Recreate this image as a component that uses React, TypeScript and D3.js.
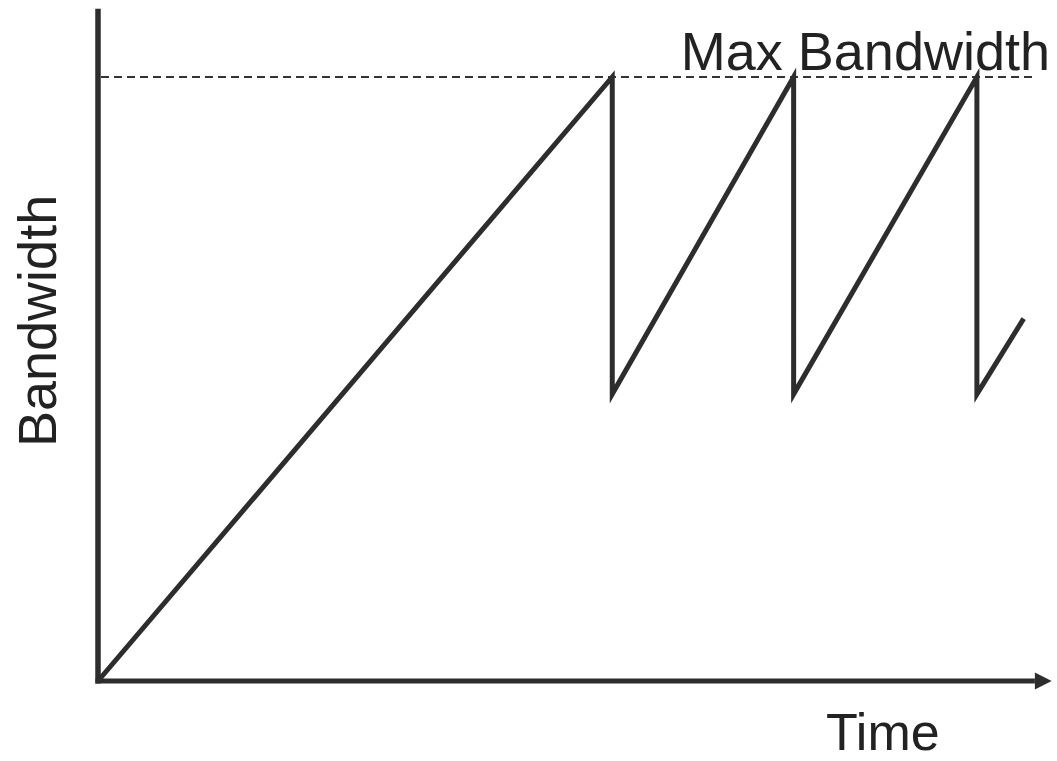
import * as d3 from "d3";
import React from "react";

// sawtooth: slow ramp-up, then halve-ish drop at the cap
const time = [0, 55, 55, 74.4, 74.4, 94, 94, 99];
const bandwidth = [0, 100, 47.5, 100, 47.5, 100, 47.5, 60];
const maxBandwidth = 100;
const labels = { x: "Time", y: "Bandwidth", cap: "Max Bandwidth" };

const W = 1057,
  H = 761;

const x = d3.scaleLinear().domain([0, 100]).range([98, 1033]);
const y = d3.scaleLinear().domain([0, 100]).range([681, 77]);

const ink = "#2d2d2d";

export default function App() {
  const pts: [number, number][] = time.map((t, i) => [t, bandwidth[i]]);
  const line = d3
    .line<[number, number]>()
    .x((d) => x(d[0]))
    .y((d) => y(d[1]));

  const font = "'Liberation Sans', Arial, sans-serif";

  return (
    <svg
      width={W}
      height={H}
      style={{ position: "absolute", left: 0, top: 0, background: "#fff" }}
    >
      {/* max bandwidth dashed line */}
      <line
        x1={x(0) + 3}
        x2={x(100)}
        y1={y(maxBandwidth)}
        y2={y(maxBandwidth)}
        stroke="#333"
        strokeWidth={2}
        strokeDasharray="8,5"
      />
      <text
        x={x(100) + 17}
        y={70}
        textAnchor="end"
        fontFamily={font}
        fontSize={54}
        fill="#222"
      >
        {labels.cap}
      </text>

      {/* axes */}
      <line x1={x(0)} x2={x(0)} y1={y(0) + 2.5} y2={y(111.3)} stroke={ink} strokeWidth={5.5} />
      <line x1={x(0) - 2.5} x2={x(100.2)} y1={y(0)} y2={y(0)} stroke={ink} strokeWidth={5} />
      <path
        d={`M${x(100.2)},${y(0) - 8.5} L${x(102)},${y(0)} L${x(100.2)},${y(0) + 8.5} Z`}
        fill={ink}
      />

      {/* bandwidth trace */}
      <path
        d={line(pts) || ""}
        fill="none"
        stroke={ink}
        strokeWidth={5}
        strokeLinejoin="miter"
      />

      <text x={826} y={750} fontFamily={font} fontSize={52} fill="#222">
        {labels.x}
      </text>
      <text
        transform="translate(56,447) rotate(-90)"
        fontFamily={font}
        fontSize={54}
        fill="#222"
      >
        {labels.y}
      </text>
    </svg>
  );
}
